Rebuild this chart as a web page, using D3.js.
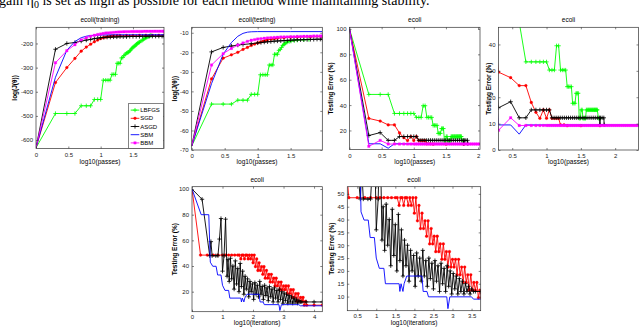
<!DOCTYPE html>
<html>
<head>
<meta charset="utf-8">
<script src="https://cdn.jsdelivr.net/npm/d3@7"></script>
<style>
body { margin: 0; background: #fff; }
svg { display: block; font-family: "Liberation Sans", Arial, sans-serif; }
</style>
</head>
<body>
<div id="chart"></div>
<script>

// ---- data: [x, value] pairs ----
const methods = ["LBFGS", "SGD", "ASGD", "SBM", "BBM"];

// ecoli(training): log(J(θ)) vs log10(passes)
const lbfgsTrain = [[0,-632],[0.301,-490],[0.477,-490],[0.602,-490],[0.699,-458],[0.778,-458],[0.845,-458],[0.903,-432],[0.954,-432],[1.0,-432],[1.041,-352],[1.079,-352],[1.114,-352],[1.146,-352],[1.176,-328],[1.204,-328],[1.23,-328],[1.255,-282],[1.279,-282],[1.301,-282],[1.322,-260],[1.342,-258],[1.362,-250],[1.38,-245],[1.398,-240],[1.415,-238],[1.431,-236],[1.447,-232],[1.462,-228],[1.477,-222],[1.491,-218],[1.505,-215],[1.519,-212],[1.531,-210],[1.544,-206],[1.556,-203],[1.568,-200],[1.58,-198],[1.591,-196],[1.602,-194],[1.623,-190],[1.643,-187],[1.663,-183],[1.681,-180],[1.699,-177],[1.716,-174],[1.732,-172],[1.748,-170],[1.763,-168],[1.778,-166]];
const sgdTrain = [[0,-632],[0.301,-362],[0.477,-300],[0.602,-262],[0.699,-232],[0.778,-215],[0.845,-203],[0.903,-193],[0.954,-186],[1.0,-180],[1.041,-176],[1.079,-174],[1.114,-172],[1.146,-171],[1.176,-170],[1.204,-169],[1.255,-168],[1.301,-168],[1.4,-167],[1.5,-167],[1.6,-166],[1.7,-166],[1.8,-166],[1.9,-166],[1.98,-166]];
const asgdTrain = [[0,-632],[0.301,-224],[0.477,-200],[0.602,-196],[0.699,-190],[0.778,-186],[0.845,-183],[0.903,-180],[0.954,-178],[1.0,-176],[1.05,-175],[1.1,-174],[1.15,-174],[1.2,-173],[1.25,-173],[1.3,-172],[1.35,-172],[1.4,-172],[1.45,-171],[1.5,-171],[1.55,-171],[1.6,-171],[1.65,-170],[1.7,-170],[1.75,-170],[1.8,-170],[1.85,-170],[1.9,-170],[1.95,-170],[1.98,-170]];
const sbmTrain = [[0,-632],[0.301,-340],[0.477,-228],[0.602,-192],[0.699,-176],[0.778,-170],[0.845,-167],[0.903,-166],[1.0,-165],[1.2,-164],[1.5,-164],[1.98,-164]];
const bbmTrain = [[0,-632],[0.301,-280],[0.477,-230],[0.602,-205],[0.699,-185],[0.778,-176],[0.845,-170],[0.903,-166],[0.954,-163],[1.0,-161],[1.04,-159],[1.08,-157],[1.12,-156],[1.16,-155],[1.2,-154],[1.24,-153],[1.28,-152.5],[1.32,-152],[1.36,-151.5],[1.4,-151],[1.44,-151],[1.48,-150.5],[1.52,-150.5],[1.56,-150],[1.6,-150],[1.64,-150],[1.68,-149.5],[1.72,-149.5],[1.76,-149.5],[1.8,-149.5],[1.84,-149],[1.88,-149],[1.92,-149],[1.96,-149],[1.98,-149]];

// ecoli(testing): log(J(θ)) vs log10(passes)
const lbfgsTest = [[0,-68],[0.301,-46.5],[0.477,-46.5],[0.602,-46.5],[0.699,-44.5],[0.778,-44.5],[0.845,-44.5],[0.903,-41.5],[0.954,-41.5],[1.0,-41.5],[1.041,-31.5],[1.079,-31.5],[1.114,-31.5],[1.146,-31.5],[1.176,-26.5],[1.204,-26.5],[1.23,-26.5],[1.255,-21],[1.279,-21],[1.301,-21],[1.322,-19],[1.342,-18.5],[1.362,-17.5],[1.38,-16.5],[1.398,-16],[1.415,-15.5],[1.431,-15],[1.447,-14.8],[1.477,-14.5],[1.505,-14.3],[1.556,-14],[1.602,-13.8],[1.699,-13.6],[1.778,-13.5]];
const sgdTest = [[0,-68],[0.301,-33.6],[0.477,-23],[0.602,-21.3],[0.699,-20],[0.778,-18.5],[0.845,-17.5],[0.903,-16.5],[0.954,-15.8],[1.0,-15.2],[1.041,-14.8],[1.079,-14.4],[1.114,-14],[1.146,-13.7],[1.204,-13.3],[1.255,-13],[1.301,-12.8],[1.4,-12.5],[1.5,-12.3],[1.6,-12.2],[1.8,-12.1],[1.98,-12]];
const asgdTest = [[0,-68],[0.301,-19.8],[0.477,-17.5],[0.602,-16.8],[0.699,-16.3],[0.778,-16],[0.903,-15.6],[1.0,-15.2],[1.05,-15],[1.1,-14.8],[1.15,-14.6],[1.2,-14.5],[1.25,-14.3],[1.3,-14.2],[1.35,-14.1],[1.4,-14],[1.45,-13.9],[1.5,-13.8],[1.55,-13.7],[1.6,-13.6],[1.65,-13.6],[1.7,-13.5],[1.75,-13.5],[1.8,-13.4],[1.85,-13.4],[1.9,-13.3],[1.95,-13.3],[1.98,-13.3]];
const sbmTest = [[0,-68],[0.301,-36],[0.477,-21],[0.602,-15],[0.699,-11.8],[0.778,-10.3],[0.845,-9.7],[0.903,-9.5],[1.0,-9.4],[1.5,-9.4],[1.98,-9.4]];
const bbmTest = [[0,-68],[0.301,-26.5],[0.477,-20.7],[0.602,-18],[0.699,-16.3],[0.778,-15.2],[0.845,-14.4],[0.903,-13.8],[0.954,-13.5],[1.0,-13.2],[1.05,-13],[1.1,-12.8],[1.15,-12.6],[1.2,-12.5],[1.25,-12.4],[1.3,-12.3],[1.35,-12.2],[1.4,-12.1],[1.45,-12.1],[1.5,-12],[1.55,-12],[1.6,-11.9],[1.65,-11.9],[1.7,-11.8],[1.75,-11.8],[1.8,-11.8],[1.85,-11.7],[1.9,-11.7],[1.95,-11.7],[1.98,-11.7]];

// ecoli: testing error (%) vs log10(passes)
const lbfgsErr = [[0,100],[0.301,48.4],[0.477,48.4],[0.602,48.4],[0.699,33.4],[0.778,33.4],[0.845,33.4],[0.903,33.4],[0.954,33.4],[1.0,33.4],[1.041,30.3],[1.079,30.3],[1.114,30.3],[1.146,39.5],[1.176,39.5],[1.204,30.3],[1.23,30.3],[1.255,30.3],[1.279,30.3],[1.301,24],[1.322,24],[1.342,24],[1.362,24],[1.38,17.7],[1.398,17.7],[1.415,17.7],[1.431,21.5],[1.447,21.5],[1.462,21.5],[1.477,12],[1.491,12],[1.505,15.2],[1.519,15.2],[1.531,12],[1.544,12],[1.556,12],[1.568,12],[1.58,15.2],[1.591,15.2],[1.602,15.2],[1.613,15.2],[1.623,15.2],[1.633,15.2],[1.643,15.2],[1.653,15.2],[1.663,15.2],[1.672,15.2],[1.681,15.2],[1.69,15.2],[1.699,15.2],[1.708,15.2],[1.716,15.2],[1.724,15.2],[1.732,15.2],[1.74,15.2],[1.756,12],[1.778,12]];
const sgdErr = [[0,100],[0.301,29.5],[0.477,27.4],[0.602,24.4],[0.699,24.4],[0.778,18],[0.845,14.3],[0.903,12],[0.954,15.2],[1.0,12],[1.041,15.2],[1.079,12],[1.114,12],[1.146,12],[1.176,12],[1.204,9.5],[1.255,9.5],[1.301,9.2],[1.5,9.2],[1.778,9.2]];
const asgdErr = [[0,100],[0.301,16],[0.477,18.3],[0.602,12.2],[0.699,12.2],[0.778,15.2],[0.845,15.2],[0.903,15.2],[0.954,15.2],[1.0,15.2],[1.041,15.2],[1.079,12.2],[1.11,12.2],[1.14,12.2],[1.17,12.2],[1.2,12.2],[1.23,12.2],[1.26,12.2],[1.29,12.2],[1.32,12.2],[1.35,12.2],[1.38,12.2],[1.41,12.2],[1.44,12.2],[1.47,12.2],[1.5,12.2],[1.53,12.2],[1.56,12.2],[1.59,12.2],[1.62,12.2],[1.65,12.2],[1.68,12.2],[1.71,12.2],[1.74,12.2],[1.77,12.2],[1.778,9.6],[1.785,12.2],[1.81,12.2],[1.835,12.2],[1.84,9.6]];
const sbmErr = [[0,100],[0.301,9.5],[0.477,9.5],[0.602,6],[0.699,9.5],[0.778,9.5],[1.0,9.5],[1.5,9.5],[2.0,9.5],[2.36,9.5]];
const bbmErr = [[0,100],[0.301,7.5],[0.477,12.2],[0.602,9.3],[0.699,9.3],[0.778,9.3],[0.845,9.3],[0.903,9.3],[0.954,9.3],[1.0,9.3],[1.03,9.3],[1.06,9.3],[1.09,9.3],[1.12,9.3],[1.15,9.3],[1.18,9.3],[1.21,9.3],[1.24,9.3],[1.27,9.3],[1.3,9.3],[1.33,9.3],[1.36,9.3],[1.39,9.3],[1.42,9.3],[1.45,9.3],[1.48,9.3],[1.51,9.3],[1.54,9.3],[1.57,9.3],[1.6,9.3],[1.63,9.3],[1.66,9.3],[1.69,9.3],[1.72,9.3],[1.75,9.3],[1.78,9.3],[1.81,9.3],[1.84,9.3],[1.87,9.3],[1.9,9.3],[1.93,9.3],[1.96,9.3],[1.99,9.3],[2.02,9.3],[2.05,9.3],[2.08,9.3],[2.11,9.3],[2.14,9.3],[2.17,9.3],[2.2,9.3],[2.23,9.3],[2.26,9.3],[2.29,9.3],[2.32,9.3],[2.35,9.3],[2.36,9.3]];

// ecoli: testing error (%) vs log10(iterations)
const sgdIter = [[0,100],[0.28,48.5],[0.5,48.5],[0.7,48.5],[0.85,48.5],[1.0,48.5],[1.1,48.5],[1.2,48.5],[1.3,48.5],[1.4,48.5],[1.5,48.5],[1.55,48.5],[1.6,45.5],[1.64,48.5],[1.68,48.5],[1.72,45.5],[1.76,48.5],[1.8,48.5],[1.84,45.5],[1.88,48.5],[1.92,45.5],[1.96,48.5],[2.0,42.5],[2.04,48.5],[2.08,39.5],[2.12,45.5],[2.16,36.5],[2.2,42.5],[2.24,36.5],[2.28,39.5],[2.32,33.5],[2.36,39.5],[2.4,30.5],[2.44,36.5],[2.48,30.5],[2.52,33.5],[2.56,27.5],[2.6,33.5],[2.64,27.5],[2.68,30.5],[2.72,24.5],[2.76,30.5],[2.8,24.5],[2.84,27.5],[2.88,21.5],[2.92,27.5],[2.96,21.5],[3.0,24.5],[3.04,21.5],[3.08,24.5],[3.12,18.5],[3.16,24.5],[3.2,18.5],[3.24,21.5],[3.28,15.5],[3.32,21.5],[3.36,15.5],[3.4,18.5],[3.44,12.5],[3.48,18.5],[3.52,12.5],[3.56,15.5],[3.6,12.5],[3.64,15.5],[3.68,9.5],[3.72,12.5],[3.76,9.5],[4.0,9.5],[4.27,9.5]];
const asgdIter = [[0,100],[0.33,92],[0.58,48],[0.62,59],[0.66,48],[0.78,48],[0.85,48],[0.9,61],[0.95,77],[1.0,36],[1.05,48],[1.1,76.5],[1.15,32],[1.18,45],[1.22,28],[1.26,46],[1.3,30],[1.34,40],[1.38,22],[1.42,44],[1.46,26],[1.5,38],[1.54,20],[1.58,42],[1.62,24],[1.66,36],[1.7,18],[1.74,32],[1.78,22],[1.82,30],[1.86,16],[1.9,28],[1.94,20],[1.98,26],[2.02,14],[2.06,27],[2.1,18],[2.14,25],[2.18,16],[2.22,28],[2.26,18],[2.3,24],[2.34,14],[2.38,25],[2.42,17],[2.46,23],[2.5,13],[2.54,24],[2.58,16],[2.62,22],[2.66,12],[2.7,23],[2.74,15],[2.78,21],[2.82,12],[2.86,22],[2.9,14],[2.94,20],[2.98,11],[3.02,19],[3.06,13],[3.1,18],[3.14,11],[3.18,17],[3.22,12],[3.26,16],[3.3,11],[3.34,15],[3.38,12],[3.42,14],[3.46,11],[3.5,13],[3.55,12],[3.6,12],[3.74,12],[4.0,12],[4.27,12]];
const sbmIter = [[0,100],[0.301,80],[0.55,80],[0.6,43],[0.68,39.8],[0.79,39.8],[0.84,33],[0.95,33],[1.0,25],[1.08,21],[1.2,21],[1.24,15],[1.6,15],[1.62,12],[1.65,15],[1.7,12],[1.73,15],[1.8,18],[2.2,18],[2.23,12],[2.33,12],[2.37,9.9],[2.85,9.9],[2.88,5.3],[2.93,9.9],[3.5,9.9],[3.55,9],[4.27,9]];

const width = 640, height = 327;

var svg = d3.select("#chart").append("svg")
	.attr("width", width)
	.attr("height", height);

const style = {
	LBFGS: {color: "#00ff00", marker: d3.symbolPlus},
	SGD:   {color: "#ff0000", marker: d3.symbolCircle},
	ASGD:  {color: "#000000", marker: d3.symbolPlus},
	SBM:   {color: "#0000ff", marker: null},
	BBM:   {color: "#ff00ff", marker: d3.symbolSquare}
};

// caption line, cut off at the top of the image like in the source
svg.append("text")
	.attr("x", -1)
	.attr("y", 4.5)
	.style("font-family", "'Liberation Serif', serif")
	.style("font-size", "14px")
	.call(t => {
		t.append("tspan").text("gain η");
		t.append("tspan").attr("dy", 3).style("font-size", "10px").text("0");
		t.append("tspan").attr("dy", -3).text(" is set as high as possible for each method while maintaining stability.");
	});

var clipId = 0;

function renderPanel(p) {
	var x = d3.scaleLinear().domain(p.xDomain).range([p.left, p.right]);
	var y = d3.scaleLinear().domain(p.yDomain).range([p.bottom, p.top]);

	var id = "clip" + (clipId++);
	svg.append("clipPath").attr("id", id)
		.append("rect")
		.attr("x", p.left).attr("y", p.top)
		.attr("width", p.right - p.left).attr("height", p.bottom - p.top);

	var g = svg.append("g").attr("clip-path", `url(#${id})`);

	var line = d3.line()
		.x(d => x(d[0]))
		.y(d => y(d[1]));

	p.series.forEach(s => {
		var st = style[s.name];
		g.append("path")
			.datum(s.data)
			.attr("fill", "none")
			.attr("stroke", st.color)
			.attr("stroke-width", 0.9)
			.attr("d", line);
		if (!st.marker) return;
		var filled = st.marker !== d3.symbolPlus;
		g.selectAll(null)
			.data(s.data.slice(1))
			.enter().append("path")
			.attr("transform", d => `translate(${x(d[0])},${y(d[1])})`)
			.attr("d", d3.symbol(st.marker, filled ? 6 : 7))
			.attr("fill", filled ? st.color : "none")
			.attr("stroke", st.color)
			.attr("stroke-width", filled ? 0.3 : 0.8);
	});

	// axes, ticks pointing inward on all four sides
	var fmt = d => String(d);
	svg.append("g")
		.attr("transform", `translate(0,${p.bottom})`)
		.call(d3.axisBottom(x).tickValues(p.xTicks).tickSize(-2).tickPadding(p.tickPad).tickFormat(fmt))
		.call(a => a.select(".domain").remove());
	svg.append("g")
		.attr("transform", `translate(0,${p.top})`)
		.call(d3.axisTop(x).tickValues(p.xTicks).tickSize(-2).tickFormat(""))
		.call(a => a.select(".domain").remove());
	svg.append("g")
		.attr("transform", `translate(${p.left},0)`)
		.call(d3.axisLeft(y).tickValues(p.yTicks).tickSize(-2).tickPadding(3).tickFormat(fmt))
		.call(a => a.select(".domain").remove());
	svg.append("g")
		.attr("transform", `translate(${p.right},0)`)
		.call(d3.axisRight(y).tickValues(p.yTicks).tickSize(-2).tickFormat(""))
		.call(a => a.select(".domain").remove());

	svg.selectAll(".tick text")
		.attr("font-size", 6)
		.attr("font-family", "'Liberation Sans', Arial, sans-serif")
		.attr("fill", "#222");
	svg.selectAll(".tick line").attr("stroke", "#333").attr("stroke-width", 0.6);

	svg.append("rect")
		.attr("x", p.left).attr("y", p.top)
		.attr("width", p.right - p.left).attr("height", p.bottom - p.top)
		.attr("fill", "none")
		.attr("stroke", "#333")
		.attr("stroke-width", 0.7);

	// title and labels
	svg.append("text")
		.attr("x", (p.left + p.right) / 2)
		.attr("y", p.top - 5)
		.attr("text-anchor", "middle")
		.attr("font-size", 6.5)
		.text(p.title);
	svg.append("text")
		.attr("x", (p.left + p.right) / 2)
		.attr("y", p.bottom + p.labelGap)
		.attr("text-anchor", "middle")
		.attr("font-size", 6.5)
		.text(p.xLabel);
	svg.append("text")
		.attr("transform", `translate(${p.yLabelX},${(p.top + p.bottom) / 2}) rotate(-90)`)
		.attr("text-anchor", "middle")
		.attr("dy", "0.35em")
		.attr("font-size", 6.5)
		.attr("font-weight", "bold")
		.text(p.yLabel);

	return {x: x, y: y};
}

function renderLegend(left, top, w, h) {
	svg.append("rect")
		.attr("x", left).attr("y", top)
		.attr("width", w).attr("height", h)
		.attr("fill", "#fff")
		.attr("stroke", "#333")
		.attr("stroke-width", 0.6);
	var row = d3.scaleBand().domain(methods).range([top + 2.5, top + h - 1.5]);
	methods.forEach(m => {
		var st = style[m];
		var cy = row(m) + row.bandwidth() / 2;
		svg.append("line")
			.attr("x1", left + 2).attr("x2", left + 10.6)
			.attr("y1", cy).attr("y2", cy)
			.attr("stroke", st.color).attr("stroke-width", 0.9);
		if (st.marker) {
			var filled = st.marker !== d3.symbolPlus;
			svg.append("path")
				.attr("transform", `translate(${left + 6.3},${cy})`)
				.attr("d", d3.symbol(st.marker, filled ? 6 : 7))
				.attr("fill", filled ? st.color : "none")
				.attr("stroke", st.color)
				.attr("stroke-width", filled ? 0.3 : 0.8);
		}
		svg.append("text")
			.attr("x", left + 11.5)
			.attr("y", cy)
			.attr("dy", "0.35em")
			.attr("font-size", 6)
			.text(m);
	});
}

const passTicks = [0, 0.5, 1, 1.5];

renderPanel({
	left: 36, right: 164, top: 27.3, bottom: 148.5,
	xDomain: [0, 1.98], yDomain: [-635, -133],
	xTicks: passTicks, yTicks: [-600, -500, -400, -300, -200],
	tickPad: 4, labelGap: 15.5,
	title: "ecoli(training)", xLabel: "log10(passes)", yLabel: "log(J(θ))", yLabelX: 15,
	series: [
		{name: "LBFGS", data: lbfgsTrain}, {name: "SGD", data: sgdTrain},
		{name: "ASGD", data: asgdTrain}, {name: "SBM", data: sbmTrain},
		{name: "BBM", data: bbmTrain}
	]
});
renderLegend(128.7, 103.5, 34.6, 45);

renderPanel({
	left: 191.7, right: 322.3, top: 27.3, bottom: 150,
	xDomain: [0, 1.98], yDomain: [-70, -7.2],
	xTicks: passTicks, yTicks: [-70, -60, -50, -40, -30, -20, -10],
	tickPad: 4, labelGap: 14,
	title: "ecoli(testing)", xLabel: "log10(passes)", yLabel: "log(J(θ))", yLabelX: 175,
	series: [
		{name: "LBFGS", data: lbfgsTest}, {name: "SGD", data: sgdTest},
		{name: "ASGD", data: asgdTest}, {name: "SBM", data: sbmTest},
		{name: "BBM", data: bbmTest}
	]
});

const errSeries = [
	{name: "LBFGS", data: lbfgsErr}, {name: "SGD", data: sgdErr},
	{name: "ASGD", data: asgdErr}, {name: "SBM", data: sbmErr},
	{name: "BBM", data: bbmErr}
];

renderPanel({
	left: 349.5, right: 480, top: 27.3, bottom: 149.5,
	xDomain: [0, 2.03], yDomain: [5, 101.3],
	xTicks: [0, 0.5, 1, 1.5, 2], yTicks: [20, 40, 60, 80, 100],
	tickPad: 4, labelGap: 14.5,
	title: "ecoli", xLabel: "log10(passes)", yLabel: "Testing Error (%)", yLabelX: 331,
	series: errSeries
});

renderPanel({
	left: 498.5, right: 638.5, top: 27.3, bottom: 150,
	xDomain: [0.3, 2.34], yDomain: [0, 46.5],
	xTicks: [0.5, 1, 1.5, 2], yTicks: [0, 10, 20, 30, 40],
	tickPad: 4, labelGap: 14,
	title: "ecoli", xLabel: "log10(passes)", yLabel: "Testing Error (%)", yLabelX: 489,
	series: errSeries
});

const iterSeries = [
	{name: "SGD", data: sgdIter}, {name: "ASGD", data: asgdIter},
	{name: "SBM", data: sbmIter}
];

renderPanel({
	left: 192, right: 322.3, top: 186.7, bottom: 311.7,
	xDomain: [0, 4.27], yDomain: [4.4, 101.8],
	xTicks: [0, 1, 2, 3, 4], yTicks: [20, 40, 60, 80, 100],
	tickPad: 3, labelGap: 12.8,
	title: "ecoli", xLabel: "log10(iterations)", yLabel: "Testing Error (%)", yLabelX: 175,
	series: iterSeries
});

renderPanel({
	left: 347.3, right: 480.7, top: 186.7, bottom: 310.7,
	xDomain: [0.24, 3.74], yDomain: [4.5, 52.8],
	xTicks: [0.5, 1, 1.5, 2, 2.5, 3, 3.5], yTicks: [10, 15, 20, 25, 30, 35, 40, 45, 50],
	tickPad: 3, labelGap: 13.8,
	title: "ecoli", xLabel: "log10(iterations)", yLabel: "Testing Error (%)", yLabelX: 332,
	series: iterSeries
});

</script>
</body>
</html>
